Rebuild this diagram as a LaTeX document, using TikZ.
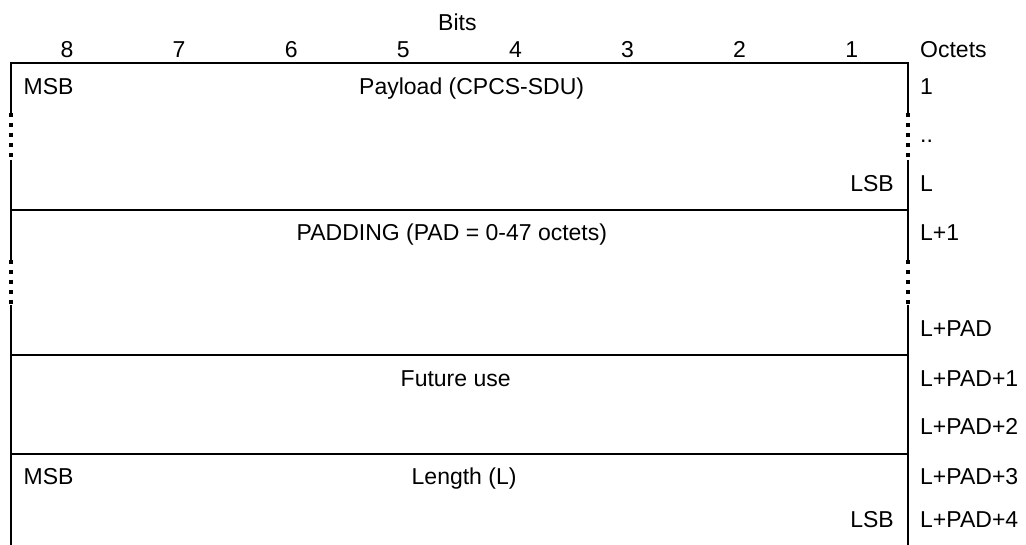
\documentclass[tikz,border=0pt]{standalone}
\usepackage{fontspec}
\setmainfont{Liberation Sans}
\begin{document}
\begin{tikzpicture}[x=1pt,y=-1pt,
  lbl/.style={inner sep=0pt,anchor=base,font=\fontsize{23}{27}\selectfont},
  lblL/.style={lbl,anchor=base west},
  lblR/.style={lbl,anchor=base east},
  frame/.style={line width=2pt},
  gap/.style={line width=4pt,dash pattern=on 4pt off 6pt}]
\useasboundingbox (0,0) rectangle (1026,545);
% frame lines
\draw[frame] (11,113) -- (11,63) -- (908,63) -- (908,113);
\draw[frame] (11,160) -- (11,260);
\draw[frame] (908,160) -- (908,260);
\draw[frame] (11,305) -- (11,545);
\draw[frame] (908,305) -- (908,545);
\draw[frame] (11,210) -- (908,210);
\draw[frame] (11,355.5) -- (908,355.5);
\draw[frame] (11,454) -- (908,454);
% dotted gaps
\draw[gap] (11,113) -- (11,160);
\draw[gap] (908,113) -- (908,160);
\draw[gap] (11,260) -- (11,305);
\draw[gap] (908,260) -- (908,305);
% header
\node[lblL] (bits) at (438,31) {Bits};
\foreach \i in {1,...,8}{
  \node[lbl] (b\i) at ({67+112.1*(8-\i)},58) {\i};
}
\node[lblL] (oct) at (920,58) {Octets};
% fields
\node[lblL] (msb1) at (23.5,95) {MSB};
\node[lblL] (payload) at (359,95) {Payload (CPCS-SDU)};
\node[lblR] (lsb1) at (894,192) {LSB};
\node[lblL] (pad) at (296.5,241) {PADDING (PAD = 0-47 octets)};
\node[lblL] (fut) at (400.5,387) {Future use};
\node[lblL] (msb2) at (23.5,484) {MSB};
\node[lblL] (len) at (411.5,484) {Length (L)};
\node[lblR] (lsb2) at (894,527) {LSB};
% octet labels
\node[lblL] (o1) at (920,95) {1};
\node[lblL] (o2) at (920,143) {..};
\node[lblL] (o3) at (920,192) {L};
\node[lblL] (o4) at (920,241) {L+1};
\node[lblL] (o5) at (920,337) {L+PAD};
\node[lblL] (o6) at (920,387) {L+PAD+1};
\node[lblL] (o7) at (920,434) {L+PAD+2};
\node[lblL] (o8) at (920,484) {L+PAD+3};
\node[lblL] (o9) at (920,527) {L+PAD+4};
\end{tikzpicture}
\end{document}
